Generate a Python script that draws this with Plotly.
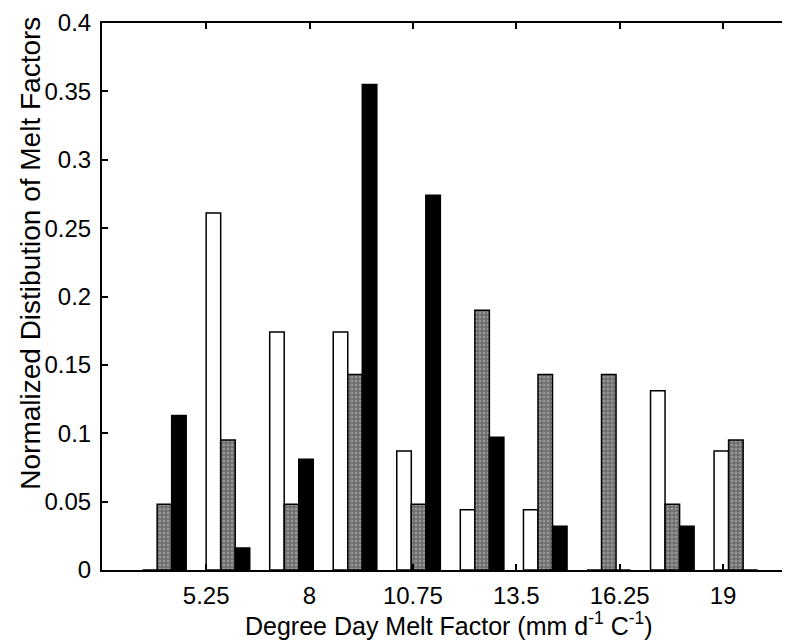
import plotly.graph_objects as go

# Bin centres (degree day melt factor, mm d-1 C-1)
bin_centers = [4.14, 5.83, 7.52, 9.21, 10.90, 12.59, 14.27, 15.96, 17.65, 19.34]

# Normalized distributions for the three series
white_vals = [0.0, 0.261, 0.174, 0.174, 0.087, 0.044, 0.044, 0.0, 0.131, 0.087]
gray_vals = [0.048, 0.095, 0.048, 0.143, 0.048, 0.190, 0.143, 0.143, 0.048, 0.095]
black_vals = [0.113, 0.016, 0.081, 0.355, 0.274, 0.097, 0.032, 0.0, 0.032, 0.0]

x_tickvals = [5.25, 8, 10.75, 13.5, 16.25, 19]
x_ticktext = ["5.25", "8", "10.75", "13.5", "16.25", "19"]
y_tickvals = [0, 0.05, 0.1, 0.15, 0.2, 0.25, 0.3, 0.35, 0.4]
y_ticktext = ["0", "0.05", "0.1", "0.15", "0.2", "0.25", "0.3", "0.35", "0.4"]

FONT = "Liberation Sans, Arial, sans-serif"

fig = go.Figure()
fig.add_trace(go.Bar(
    x=bin_centers, y=white_vals, name="white",
    marker=dict(color="white", line=dict(color="black", width=1.5)),
))
fig.add_trace(go.Bar(
    x=bin_centers, y=gray_vals, name="gray",
    marker=dict(color="#7a7a7a", line=dict(color="black", width=1.5),
                pattern=dict(shape=".", bgcolor="#6f6f6f", fgcolor="#c4c4c4",
                             size=4, solidity=0.35)),
))
fig.add_trace(go.Bar(
    x=bin_centers, y=black_vals, name="black",
    marker=dict(color="black", line=dict(color="black", width=1.5)),
))

# the page body adds an 8 px offset, so the figure is 8 px smaller each way
fig.update_layout(
    width=782, height=633,
    margin=dict(l=94, r=0, t=15, b=71, pad=0, autoexpand=False),
    paper_bgcolor="white", plot_bgcolor="white",
    barmode="group", bargap=0.31, bargroupgap=0,
    showlegend=False,
    font=dict(family=FONT, size=24, color="black"),
    xaxis=dict(
        range=[2.48, 20.78],
        tickvals=x_tickvals, ticktext=x_ticktext,
        ticks="inside", ticklen=6, tickwidth=1.5, tickcolor="black",
        showline=True, linecolor="black", linewidth=2, mirror="ticks",
        showgrid=False, zeroline=False, automargin=False,
        ticklabelstandoff=3,
        tickfont=dict(family=FONT, size=24),
    ),
    yaxis=dict(
        range=[0, 0.4],
        tickvals=y_tickvals, ticktext=y_ticktext,
        ticks="inside", ticklen=6, tickwidth=1.5, tickcolor="black",
        showline=True, linecolor="black", linewidth=2, mirror=False,
        showgrid=False, zeroline=False, automargin=False,
        ticklabelstandoff=4,
        tickfont=dict(family=FONT, size=24),
    ),
    annotations=[
        dict(text="Degree Day Melt Factor (mm d<sup>-1</sup> C<sup>-1</sup>)",
             xref="paper", yref="paper", x=0.505, y=-0.098,
             xanchor="center", yanchor="middle", showarrow=False,
             font=dict(family=FONT, size=25)),
        dict(text="Normalized Distibution of Melt Factors",
             xref="paper", yref="paper", x=-0.104, y=0.579,
             xanchor="center", yanchor="middle", textangle=-90, showarrow=False,
             font=dict(family=FONT, size=28)),
    ],
)

fig.write_html("out.html")
